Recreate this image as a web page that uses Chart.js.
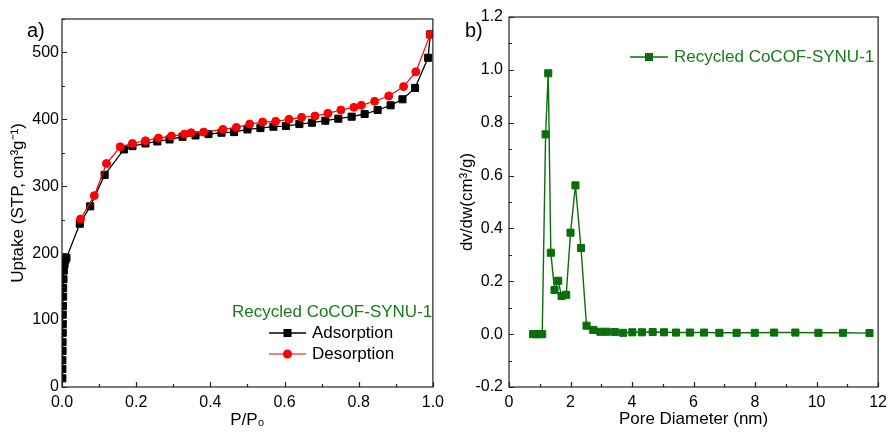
<!DOCTYPE html>
<html>
<head>
  <title>Recycled CoCOF-SYNU-1</title>
  <script src="https://cdn.jsdelivr.net/npm/chart.js"></script>
  <style>
    body {
      margin: 0;
      background: #fff;
      width: 893px;
      height: 433px;
      overflow: hidden;
      position: relative;
      font-family: 'Liberation Sans', Arial, sans-serif;
    }
    canvas {
      position: absolute;
      top: 0;
    }
    #chartA { left: 0; }
    #chartB { left: 450px; }
    .panel-tag {
      position: absolute;
      font-size: 20px;
      line-height: 20px;
      color: #000;
    }
  </style>
</head>
<body>
  <canvas id="chartA" width="450" height="433"></canvas>
  <canvas id="chartB" width="443" height="433"></canvas>
  <div class="panel-tag" style="left:27px; top:20px;">a)</div>
  <div class="panel-tag" style="left:465px; top:20px;">b)</div>

  <script>
    // a) N2 isotherm
    const adsP = [0.001, 0.001, 0.001, 0.0015, 0.0015, 0.002, 0.002, 0.002, 0.0025, 0.003, 0.003, 0.004, 0.005, 0.007, 0.009, 0.012,
      0.048, 0.076, 0.115, 0.167, 0.19, 0.225, 0.257, 0.29, 0.325, 0.36, 0.395, 0.43, 0.464, 0.5, 0.535, 0.57, 0.604,
      0.64, 0.674, 0.71, 0.745, 0.781, 0.816, 0.851, 0.886, 0.918, 0.952, 0.987, 0.993];
    const adsV = [13, 27, 40, 54, 67, 81, 94, 108, 121, 135, 148, 161, 174, 184, 190, 193,
      244, 270, 317, 355, 360, 364, 367, 370, 374, 376, 378, 380, 381, 385, 387, 389, 390,
      393, 395, 398, 401, 404, 408, 414, 421, 430, 447, 492, 527];
    const desP = [0.05, 0.087, 0.12, 0.157, 0.19, 0.225, 0.26, 0.295, 0.33, 0.348, 0.382, 0.434, 0.47, 0.506, 0.541,
      0.576, 0.612, 0.646, 0.682, 0.717, 0.752, 0.787, 0.807, 0.843, 0.881, 0.921, 0.954, 0.993];
    const desV = [251, 286, 334, 359, 364, 368, 372, 375, 378, 380, 381, 385, 388, 393, 396,
      397, 400, 403, 405, 409, 414, 418, 421, 427, 435, 449, 471, 527];

    // b) pore size distribution
    const poreD = [0.78, 0.88, 0.98, 1.08, 1.19, 1.276, 1.36, 1.48, 1.6, 1.71, 1.86, 2.0, 2.16, 2.34, 2.52, 2.74,
      2.97, 3.18, 3.44, 3.71, 4.01, 4.32, 4.67, 5.04, 5.43, 5.88, 6.34, 6.84, 7.4, 7.99, 8.62, 9.31, 10.06, 10.86, 11.72];
    const dvdw = [0, 0, 0, 0, 0.756, 0.987, 0.308, 0.167, 0.202, 0.144, 0.149, 0.384, 0.563, 0.326, 0.032, 0.016,
      0.009, 0.009, 0.008, 0.005, 0.007, 0.007, 0.008, 0.007, 0.006, 0.006, 0.006, 0.005, 0.005, 0.005, 0.006, 0.006, 0.005, 0.005, 0.004];

    const sampleName = 'Recycled CoCOF-SYNU-1';
    const green = '#0b6e0b';

    Chart.defaults.font.family = "'Liberation Sans', Arial, sans-serif";
    Chart.defaults.font.size = 16;
    Chart.defaults.color = '#000';

    function pts(xs, ys) {
      return xs.map((x, i) => ({ x: x, y: ys[i] }));
    }

    // frame round the plot plus inward ticks (long = labelled, short = minor)
    const framePlugin = {
      id: 'frame',
      afterDraw(chart) {
        const { ctx, chartArea: a, scales } = chart;
        ctx.save();
        ctx.strokeStyle = '#222';
        ctx.lineWidth = 1.2;
        ctx.strokeRect(a.left, a.top, a.right - a.left, a.bottom - a.top);
        ctx.beginPath();
        scales.x.ticks.forEach(t => {
          const px = Math.round(scales.x.getPixelForValue(t.value)) + 0.5;
          ctx.moveTo(px, a.bottom);
          ctx.lineTo(px, a.bottom - (t.label ? 5 : 3));
        });
        scales.y.ticks.forEach(t => {
          const py = Math.round(scales.y.getPixelForValue(t.value)) + 0.5;
          ctx.moveTo(a.left, py);
          ctx.lineTo(a.left + (t.label ? 5 : 3), py);
        });
        ctx.stroke();
        ctx.restore();
      }
    };

    function drawMarker(ctx, ds, x, y) {
      ctx.fillStyle = ds.pointBackgroundColor;
      ctx.beginPath();
      if (ds.pointStyle === 'circle') {
        ctx.arc(x, y, ds.pointRadius + 0.5, 0, Math.PI * 2);
      } else {
        const s = ds.pointRadius * Math.SQRT1_2 + 0.5;
        ctx.rect(x - s, y - s, 2 * s, 2 * s);
      }
      ctx.fill();
    }

    const legendPlugin = {
      id: 'boxLegend',
      afterDraw(chart, args, o) {
        const ctx = chart.ctx;
        ctx.save();
        ctx.font = '17px ' + Chart.defaults.font.family;
        ctx.textBaseline = 'middle';
        ctx.textAlign = 'left';
        let y = o.y;
        if (o.title) {
          ctx.fillStyle = o.titleColor;
          ctx.fillText(o.title, o.titleX, y);
          y += o.rowGap;
        }
        chart.data.datasets.forEach(ds => {
          ctx.strokeStyle = ds.borderColor;
          ctx.lineWidth = ds.borderWidth;
          ctx.beginPath();
          ctx.moveTo(o.x0, y);
          ctx.lineTo(o.x1, y);
          ctx.stroke();
          drawMarker(ctx, ds, (o.x0 + o.x1) / 2, y);
          ctx.fillStyle = o.textColor || '#000';
          ctx.fillText(ds.label, o.textX, y);
          y += o.rowGap;
        });
        ctx.restore();
      }
    };

    function axis(min, max, step, isMajor, fmt, title, titlePad, size, tickPad) {
      return {
        type: 'linear',
        min: min,
        max: max,
        grid: { display: false, drawTicks: false },
        border: { display: false },
        ticks: {
          stepSize: step,
          autoSkip: false,
          maxRotation: 0,
          padding: tickPad,
          callback: v => isMajor(v) ? fmt(Math.abs(v) < 1e-9 ? 0 : v) : ''
        },
        title: { display: true, text: title, font: { size: 17 }, padding: titlePad },
        afterFit: size
      };
    }

    const evenTenth = v => Math.round(v * 10) % 2 === 0;

    new Chart(document.getElementById('chartA'), {
      type: 'scatter',
      data: {
        datasets: [
          {
            label: 'Adsorption',
            data: pts(adsP, adsV),
            order: 1,
            showLine: true,
            borderColor: '#000',
            borderWidth: 1.3,
            pointStyle: 'rect',
            pointRadius: 5,
            pointBackgroundColor: '#000',
            pointBorderColor: '#000',
            pointBorderWidth: 1
          },
          {
            label: 'Desorption',
            data: pts(desP, desV),
            order: 0,
            showLine: true,
            borderColor: '#ff0000',
            borderWidth: 1.2,
            pointStyle: 'circle',
            pointRadius: 4,
            pointBackgroundColor: '#ff0000',
            pointBorderColor: '#ff0000',
            pointBorderWidth: 1
          }
        ]
      },
      options: {
        responsive: false,
        animation: false,
        layout: { padding: { left: 0, right: 12, top: 19, bottom: 0 } },
        scales: {
          x: axis(0, 1, 0.1, evenTenth, v => v.toFixed(1), 'P/P\u2080', { top: 0, bottom: 2 },
            s => { s.height = 46; }, 6),
          y: axis(0, 550, 50, v => v % 100 === 0, v => String(v), 'Uptake (STP, cm\u00b3g\u207b\u00b9)', { top: 8, bottom: 0 },
            s => { s.width = 62; }, 3)
        },
        plugins: {
          legend: { display: false },
          tooltip: { enabled: false },
          boxLegend: {
            title: sampleName, titleColor: '#1b7a1b', titleX: 232,
            y: 312, rowGap: 21, x0: 269, x1: 306, textX: 312
          }
        }
      },
      plugins: [framePlugin, legendPlugin]
    });

    new Chart(document.getElementById('chartB'), {
      type: 'scatter',
      data: {
        datasets: [
          {
            label: sampleName,
            data: pts(poreD, dvdw),
            showLine: true,
            borderColor: green,
            borderWidth: 1.4,
            pointStyle: 'rect',
            pointRadius: 5,
            pointBackgroundColor: green,
            pointBorderColor: green,
            pointBorderWidth: 1
          }
        ]
      },
      options: {
        responsive: false,
        animation: false,
        layout: { padding: { left: 0, right: 8, top: 17, bottom: 0 } },
        scales: {
          x: axis(0, 12, 1, v => v % 2 === 0, v => String(v), 'Pore Diameter (nm)', { top: 0, bottom: 3 },
            s => { s.height = 46; }, 6),
          y: axis(-0.2, 1.2, 0.1, evenTenth, v => v.toFixed(1), 'dv/dw(cm\u00b3/g)', { top: 7, bottom: 0 },
            s => { s.width = 59; }, 6)
        },
        plugins: {
          legend: { display: false },
          tooltip: { enabled: false },
          boxLegend: {
            y: 57, rowGap: 21, x0: 180, x1: 218, textX: 224, textColor: '#1b7a1b'
          }
        }
      },
      plugins: [framePlugin, legendPlugin]
    });
  </script>
</body>
</html>
